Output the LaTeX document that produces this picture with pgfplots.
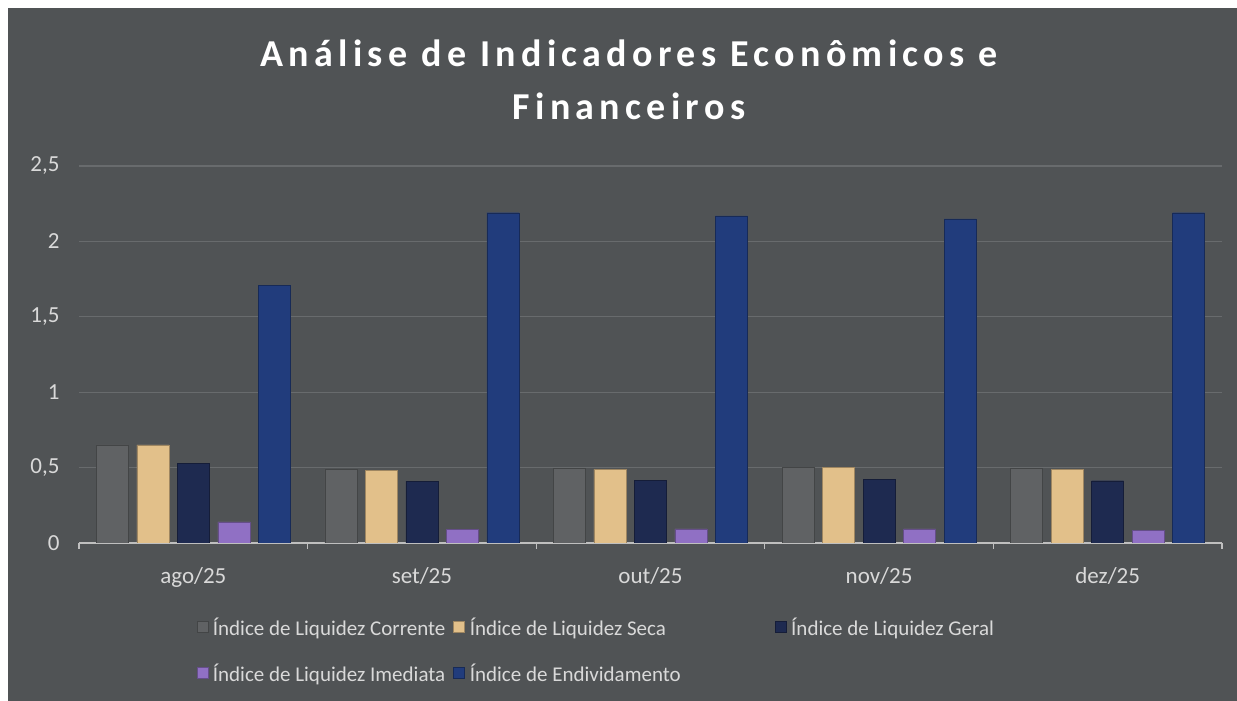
\documentclass[border=0pt]{standalone}
\usepackage{pgfplots}
\pgfplotsset{compat=1.18}
\usepackage{fontspec}
\setmainfont{Carlito}
\newfontfamily\titlefont[LetterSpace=14]{Carlito}
\definecolor{bg}{HTML}{505355}
\definecolor{gridc}{HTML}{686B6D}
\definecolor{axisc}{HTML}{BFBFBF}
\definecolor{txt}{HTML}{D9D9D9}
\definecolor{cA}{HTML}{606264}
\definecolor{cB}{HTML}{E2C08A}
\definecolor{cC}{HTML}{1E2A50}
\definecolor{cD}{HTML}{9070C4}
\definecolor{cE}{HTML}{213C7C}
\begin{document}
\begin{tikzpicture}[x=1pt,y=1pt]
\fill[white] (0,0) rectangle (1237,701);
\fill[bg] (8,0) rectangle (1237,693);
\node[anchor=base, text=white, font=\titlefont\bfseries\fontsize{38}{44}\selectfont] at (629,634) {Análise de Indicadores Econômicos e};
\node[anchor=base, text=white, font=\titlefont\bfseries\fontsize{38}{44}\selectfont] at (629,581) {Financeiros};
\begin{axis}[
  at={(79pt,158pt)}, anchor=south west,
  scale only axis, width=1143pt, height=377pt,
  xmin=-0.5, xmax=4.5, ymin=0, ymax=2.5,
  ybar=8.5pt, bar width=32pt,
  axis x line*=bottom, axis y line*=left,
  y axis line style={draw=none},
  x axis line style={draw=axisc, line width=1.2pt},
  xtick={0,1,2,3,4},
  xticklabels={ago/25,set/25,out/25,nov/25,dez/25},
  minor xtick={-0.5,0.5,1.5,2.5,3.5,4.5},
  major tick length=0pt, minor tick length=6pt, tick align=outside,
  minor x tick style={draw=axisc, line width=1.2pt},
  ytick={0,0.5,1,1.5,2,2.5},
  yticklabels={0,{0,5},1,{1,5},2,{2,5}},
  ymajorgrids, grid style={draw=gridc, line width=1.2pt},
  ticklabel style={text=txt, font=\fontsize{23}{27}\selectfont},
  yticklabel style={xshift=-16pt},
  xticklabel style={yshift=-21pt},
  legend columns=3,
  legend style={at={(axis description cs:0.1,-0.284)}, anchor=west,
    draw=none, fill=none, text=txt, font=\fontsize{21}{25}\selectfont,
    row sep=23pt,
    /tikz/column 1/.style={column sep=3pt},
    /tikz/column 3/.style={column sep=3pt},
    /tikz/column 5/.style={column sep=3pt},
    /tikz/column 2/.style={column sep=6pt},
    /tikz/column 4/.style={column sep=92pt}},
  legend image code/.code={\fill[#1] (0pt,-5pt) rectangle (11pt,6pt);},
  legend cell align=left,
]
\addplot[fill=cA, draw=cA!70!black] coordinates {(0,0.65) (1,0.49) (2,0.495) (3,0.50) (4,0.495)};
\addplot[fill=cB, draw=cB!70!black] coordinates {(0,0.65) (1,0.48) (2,0.488) (3,0.50) (4,0.49)};
\addplot[fill=cC, draw=cC!70!black] coordinates {(0,0.53) (1,0.41) (2,0.417) (3,0.42) (4,0.413)};
\addplot[fill=cD, draw=cD!70!black] coordinates {(0,0.14) (1,0.09) (2,0.093) (3,0.093) (4,0.083)};
\addplot[fill=cE, draw=cE!70!black] coordinates {(0,1.71) (1,2.19) (2,2.17) (3,2.15) (4,2.19)};
\legend{Índice de Liquidez Corrente, Índice de Liquidez Seca, Índice de Liquidez Geral, Índice de Liquidez Imediata, Índice de Endividamento}
\end{axis}
\end{tikzpicture}
\end{document}
